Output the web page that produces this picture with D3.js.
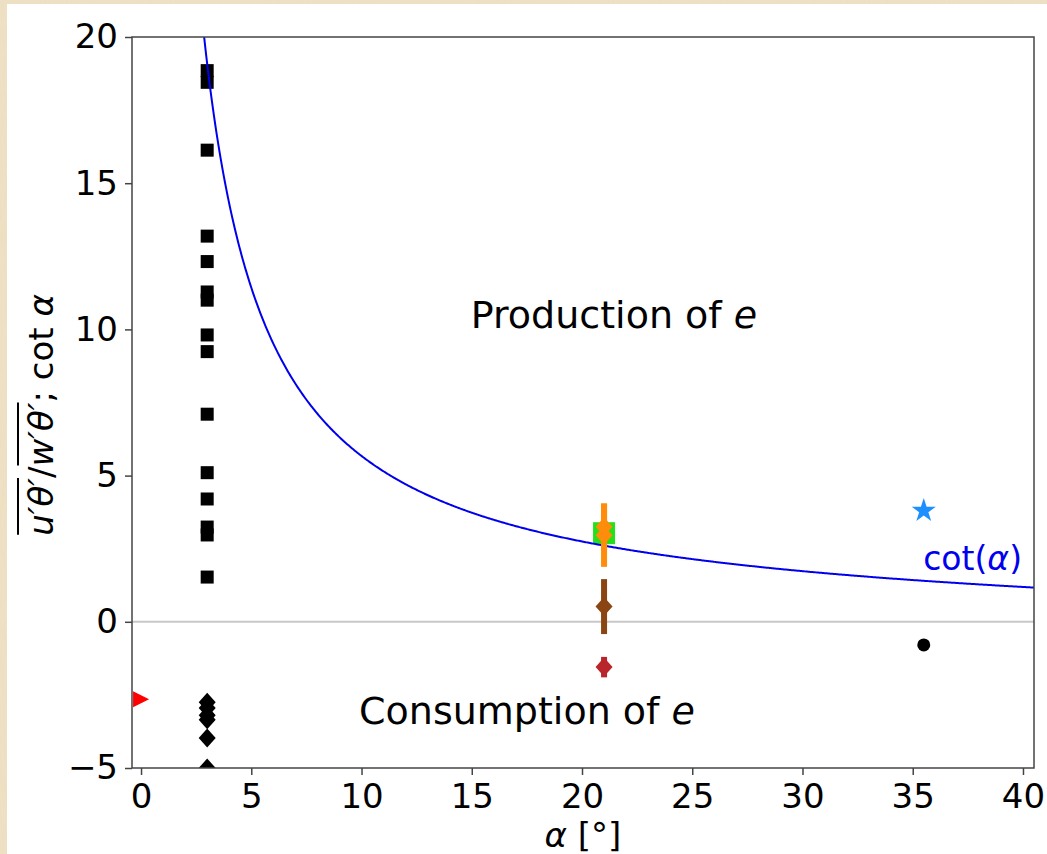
<!DOCTYPE html>
<html>
<head>
<meta charset="utf-8">
<script src="https://cdn.jsdelivr.net/npm/d3@7"></script>
<style>
  html, body { margin: 0; padding: 0; background: #efe2c6; }
  svg { display: block; font-family: "DejaVu Sans", sans-serif; }
</style>
</head>
<body>
<div class="viz"></div>
<script>
// data
const xTicks = [0, 5, 10, 15, 20, 25, 30, 35, 40]
const yTicks = [-5, 0, 5, 10, 15, 20]

// black squares and diamonds, all at alpha = 3
const squareAlpha = 3
const squareVals = [18.85, 18.45, 16.13, 13.19, 12.32, 11.28, 11.0, 9.81, 9.24, 7.1, 5.1, 4.2, 3.24, 2.97, 1.53]
const diamondVals = [-2.75, -2.95, -3.2, -3.35, -3.97, -5.0]

// red triangle at alpha = 0
const triangle = { a: 0, v: -2.65 }
// green square at alpha = 21
const greenSquare = { a: 21, v: 3.03 }
// points with error bars at alpha = 21
const errPoints = [
  { a: 21, v: 3.25, err: 0.8, color: '#ff8c0a' },
  { a: 21, v: 2.96, err: 1.08, color: '#ff8c0a' },
  { a: 21, v: 0.52, err: 0.94, color: '#8b4513' },
  { a: 21, v: -1.55, err: 0.35, color: '#b8262b' }
]
// blue star and black dot at alpha = 35.5
const star = { a: 35.5, v: 3.8 }
const dot = { a: 35.5, v: -0.79 }

const W = 1047, H = 854
const m = { left: 132, right: 1034, top: 37, bottom: 768 }

const svg = d3.select('.viz')
  .append('svg')
    .attr('width', W)
    .attr('height', H)

// parchment background
const defs = svg.append('defs')
const filt = defs.append('filter').attr('id', 'paper')
  .attr('x', 0).attr('y', 0).attr('width', '100%').attr('height', '100%')
filt.append('feTurbulence')
  .attr('type', 'fractalNoise')
  .attr('baseFrequency', '0.9 0.04')
  .attr('numOctaves', 3)
  .attr('seed', 4)
filt.append('feColorMatrix')
  .attr('type', 'matrix')
  .attr('values', '0 0 0 0 0.72  0 0 0 0 0.60  0 0 0 0 0.40  0 0 0 0.55 0')
filt.append('feComposite').attr('in2', 'SourceGraphic').attr('operator', 'in')

svg.append('rect').attr('width', W).attr('height', H).attr('fill', '#efe2c6')
svg.append('rect').attr('width', W).attr('height', H).attr('fill', '#efe2c6')
  .attr('filter', 'url(#paper)').attr('opacity', 0.35)
svg.append('rect').attr('x', 7).attr('y', 4).attr('width', W - 7).attr('height', H - 4)
  .attr('fill', '#ffffff')

defs.append('clipPath').attr('id', 'plotClip')
  .append('rect')
    .attr('x', m.left).attr('y', m.top)
    .attr('width', m.right - m.left).attr('height', m.bottom - m.top)

const x = d3.scaleLinear().domain([-0.41, 40.5]).range([m.left, m.right])
const y = d3.scaleLinear().domain([-5, 20]).range([m.bottom, m.top])

const plot = svg.append('g').attr('clip-path', 'url(#plotClip)')

// zero line
plot.append('line')
  .attr('x1', m.left).attr('x2', m.right)
  .attr('y1', y(0)).attr('y2', y(0))
  .attr('stroke', '#c8c8c8').attr('stroke-width', 2)

const diamond = (w, h) => `M0,${-h / 2}L${w / 2},0L0,${h / 2}L${-w / 2},0Z`

// black squares
plot.selectAll('rect.sq')
  .data(squareVals).enter().append('rect')
    .attr('class', 'sq')
    .attr('x', x(squareAlpha) - 6.5)
    .attr('y', d => y(d) - 6.5)
    .attr('width', 13).attr('height', 13)
    .attr('fill', '#000')

// black diamonds
plot.selectAll('path.dm')
  .data(diamondVals).enter().append('path')
    .attr('class', 'dm')
    .attr('d', diamond(17, 19))
    .attr('transform', d => `translate(${x(squareAlpha)},${y(d)})`)
    .attr('fill', '#000')

// red triangle
plot.append('path')
  .attr('d', 'M-8,-8L8,0L-8,8Z')
  .attr('transform', `translate(${x(triangle.a)},${y(triangle.v)})`)
  .attr('fill', '#ff0000')

// green square
plot.append('rect')
  .attr('x', x(greenSquare.a) - 11).attr('y', y(greenSquare.v) - 11)
  .attr('width', 22).attr('height', 22)
  .attr('fill', '#22e01a')

// cot(alpha) curve
const curveA = d3.range(2.86, 40.6, 0.05)
const line = d3.line()
  .x(a => x(a))
  .y(a => y(1 / Math.tan(a * Math.PI / 180)))
plot.append('path')
  .attr('d', line(curveA))
  .attr('fill', 'none')
  .attr('stroke', '#0000ee')
  .attr('stroke-width', 2)

// error bars
const eb = plot.selectAll('g.eb')
  .data(errPoints).enter().append('g')
    .attr('class', 'eb')
eb.append('line')
  .attr('x1', d => x(d.a)).attr('x2', d => x(d.a))
  .attr('y1', d => y(d.v + d.err)).attr('y2', d => y(d.v - d.err))
  .attr('stroke', d => d.color).attr('stroke-width', 6)
eb.append('path')
  .attr('d', diamond(17, 19))
  .attr('transform', d => `translate(${x(d.a)},${y(d.v)})`)
  .attr('fill', d => d.color)

// star
plot.append('path')
  .attr('d', d3.symbol(d3.symbolStar, 180)())
  .attr('transform', `translate(${x(star.a)},${y(star.v)})`)
  .attr('fill', '#1e8fff')

// dot
plot.append('circle')
  .attr('cx', x(dot.a)).attr('cy', y(dot.v)).attr('r', 6.5)
  .attr('fill', '#000')

// axes
const fmt = d => (d < 0 ? '\u2212' + Math.abs(d) : String(d))
const xAxis = svg.append('g')
  .attr('transform', `translate(0,${m.bottom})`)
  .call(d3.axisBottom(x).tickValues(xTicks).tickFormat(fmt).tickSize(7).tickPadding(9))
const yAxis = svg.append('g')
  .attr('transform', `translate(${m.left},0)`)
  .call(d3.axisLeft(y).tickValues(yTicks).tickFormat(fmt).tickSize(7).tickPadding(7))

for (const ax of [xAxis, yAxis]) {
  ax.select('.domain').remove()
  ax.selectAll('line').attr('stroke', '#444').attr('stroke-width', 1.5)
  ax.selectAll('text').attr('fill', '#000')
    .style('font-size', '34px').style('font-family', '"DejaVu Sans", sans-serif')
}

// frame
svg.append('rect')
  .attr('x', m.left).attr('y', m.top)
  .attr('width', m.right - m.left).attr('height', m.bottom - m.top)
  .attr('fill', 'none').attr('stroke', '#444').attr('stroke-width', 1.5)

// annotations
const addText = (tx, ty, parts, size, color, anchor) => {
  const t = svg.append('text')
    .attr('x', tx).attr('y', ty)
    .attr('text-anchor', anchor || 'middle')
    .attr('fill', color || '#000')
    .style('font-size', size + 'px')
  parts.forEach(p => {
    t.append('tspan').text(p[0]).style('font-style', p[1] ? 'italic' : 'normal')
  })
  return t
}
addText(614, 328, [['Production of ', false], ['e', true]], 38)
addText(527, 724, [['Consumption of ', false], ['e', true]], 38)
addText(1022, 570, [['cot(', false], ['\u03b1', true], [')', false]], 33, '#0000ee', 'end')
addText(583, 847, [['\u03b1', true], [' [\u00b0]', false]], 34)

// y label with overlines
const yl = svg.append('g').attr('transform', 'translate(53,415) rotate(-90)')
const ylt = yl.append('text')
  .attr('text-anchor', 'middle')
  .style('font-size', '34px')
const ylParts = [['u\u2032\u03b8\u2032', true], ['/', false], ['w\u2032\u03b8\u2032', true], ['; cot ', false], ['\u03b1', true]]
ylParts.forEach(p => {
  ylt.append('tspan').text(p[0]).style('font-style', p[1] ? 'italic' : 'normal')
})
const node = ylt.node()
const total = node.getComputedTextLength()
const start0 = -total / 2
const over = [[0, 4], [5, 4]]
over.forEach(([s, n]) => {
  const x0 = start0 + node.getSubStringLength(0, s)
  const w = node.getSubStringLength(s, n)
  yl.append('line')
    .attr('x1', x0 + 1).attr('x2', x0 + w)
    .attr('y1', -35).attr('y2', -35)
    .attr('stroke', '#000').attr('stroke-width', 2)
})
</script>
</body>
</html>
